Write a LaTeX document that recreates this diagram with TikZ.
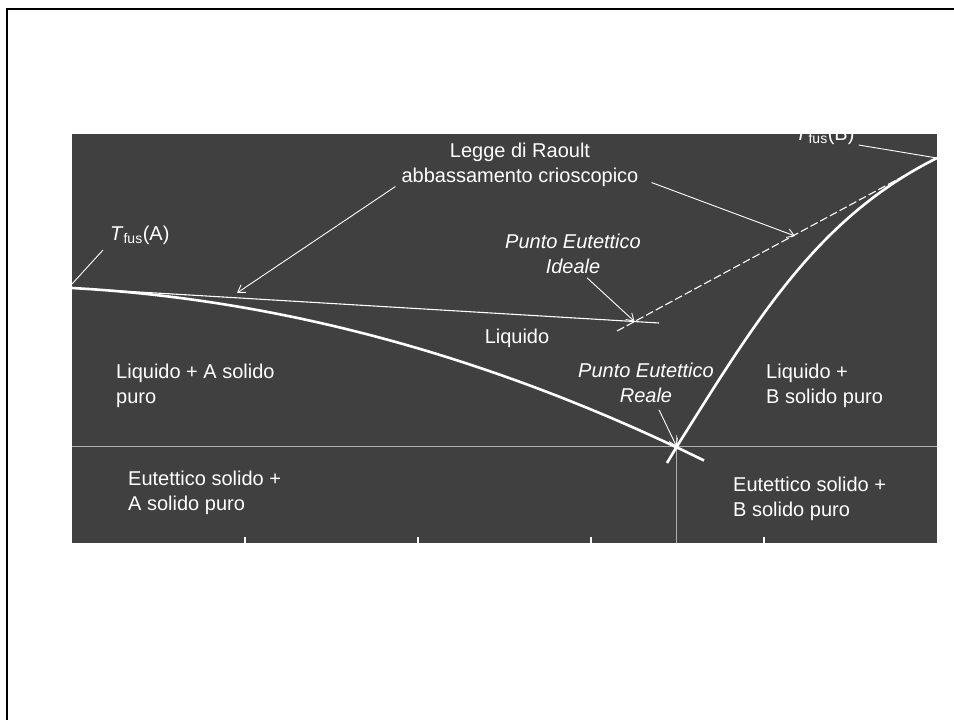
\documentclass[tikz,border=0pt]{standalone}
\usepackage{fontspec}
\setmainfont{Liberation Sans}
\usetikzlibrary{arrows.meta}
\definecolor{panelgray}{RGB}{64,64,64}
\definecolor{eutgray}{RGB}{175,175,175}
\begin{document}
\begin{tikzpicture}[x=1pt, y=-1pt,
		slideframe/.style={draw=black, line width=2.5pt},
		liquidus/.style={draw=white, line width=2.6pt},
		ideal/.style={draw=white, line width=1.1pt},
		leader/.style={draw=white, line width=0.9pt},
		pointer/.style={leader, -{Straight Barb[length=7pt,width=9pt]}},
		eutectic/.style={draw=eutgray, line width=1.2pt},
		axtick/.style={draw=white, line width=1.5pt},
		plaintext/.style={text=white, inner sep=0pt, font=\fontsize{20}{25}\selectfont},
		italictext/.style={plaintext, font=\fontsize{20}{25}\selectfont\itshape, align=center, anchor=north},
		region/.style={plaintext, align=left, anchor=north west}
		]
		
		% Slide frame and panel
		\useasboundingbox (0,0) rectangle (954,720);
		\draw[slideframe] (7,720) -- (7,9) -- (954,9);
		\fill[panelgray] (72,133.5) rectangle (937,543);
		
		% Key points
		\coordinate (meltA) at (72,288);
		\coordinate (meltB) at (937,158);
		\coordinate (idealpt) at (634.5,321.5);
		\coordinate (eut) at (676.7,446.7);
		\coordinate (idealAend) at (659,323);
		\coordinate (idealBend) at (617,331);
		\coordinate (raoultA) at (237,293);
		\coordinate (raoultB) at (795,236);
		
		% Eutectic lines and ticks
		\draw[eutectic] (72,446.7) -- (937,446.7);
		\draw[eutectic] (676.7,435) -- (676.7,543);
		\foreach \tx in {245,418,591,764}
			\draw[axtick] (\tx,537) -- (\tx,543);
		
		% Ideal (Raoult) liquidus
		\draw[ideal] (meltA) -- (idealAend);
		\draw[ideal, dash pattern=on 8pt off 3pt] (idealBend) -- (meltB);
		
		% Real liquidus curves
		\draw[liquidus] (meltA) .. controls (282,299.5) and (493,357) .. (704,460.5);
		\draw[liquidus] (meltB) .. controls (817,218) and (757,319) .. (eut) -- (667,463);
		
		% Labels
		\node[plaintext, anchor=base west] (tfusA) at (110,240) {\textit{T}\textsubscript{fus}(A)};
		\node[plaintext, anchor=base west] (tfusB) at (795,140) {\textit{T}\textsubscript{fus}(B)};
		\node[plaintext, align=center, anchor=north] (raoult) at (520,142.5) {Legge di Raoult\\abbassamento crioscopico};
		\node[italictext] (ideale) at (573,233.7) {Punto Eutettico\\Ideale};
		\node[italictext] (reale) at (646,362.7) {Punto Eutettico\\Reale};
		\node[plaintext, anchor=base] (liquido) at (517,343) {Liquido};
		\node[region] (liqA) at (116,363.5) {Liquido + A solido\\puro};
		\node[region] (liqB) at (766,363.5) {Liquido +\\B solido puro};
		\node[region] (eutA) at (128,470.5) {Eutettico solido +\\A solido puro};
		\node[region] (eutB) at (733,476.5) {Eutettico solido +\\B solido puro};
		
		% Pointers
		\draw[pointer] ([xshift=-6pt]raoult.south west) -- (raoultA);
		\draw[pointer] ([xshift=13pt,yshift=4pt]raoult.south east) -- (raoultB);
		\draw[pointer] ([xshift=14pt,yshift=-4pt]ideale.south) -- (idealpt);
		\draw[pointer] ([xshift=13pt,yshift=-7pt]reale.south) -- (eut);
		\draw[leader] ([xshift=-7pt,yshift=-10pt]tfusA.base west) -- ([yshift=4pt]meltA);
		\draw[leader] ([xshift=4pt,yshift=-5pt]tfusB.base east) -- (meltB);
		
	\end{tikzpicture}
\end{document}
